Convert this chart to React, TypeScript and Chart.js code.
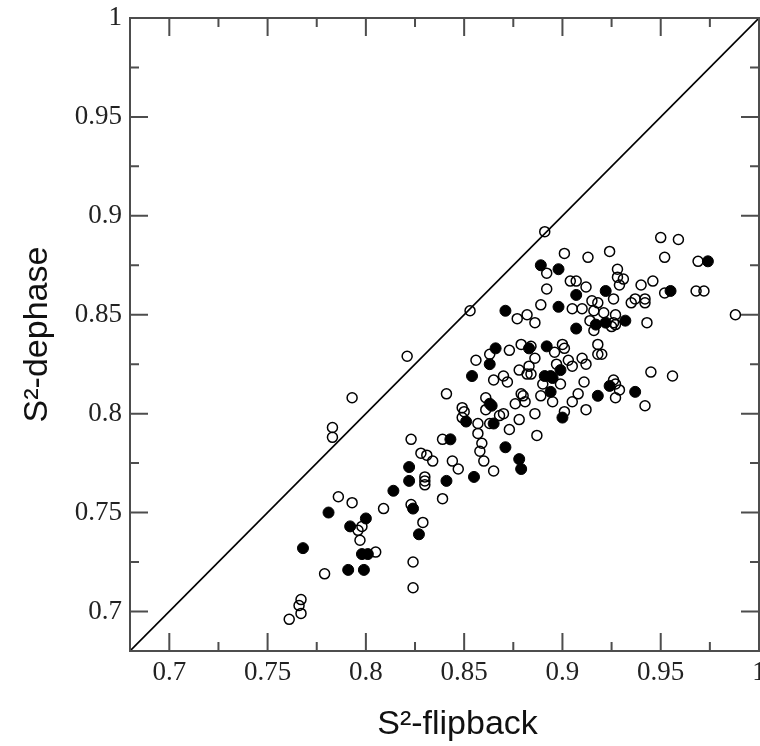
import React, { useEffect, useRef } from "react";
import { Chart, registerables } from "chart.js";

Chart.register(...registerables);

// Axis ranges and tick spacing
const axisMin = 0.68;
const axisMax = 1.0;
const majorStep = 0.05;
const minorStep = 0.025;

// Axis titles
const xTitle = "S²-flipback";
const yTitle = "S²-dephase";

// Open circles: [S2-flipback, S2-dephase]
const openPoints: [number, number][] = [
  [0.821, 0.829], [0.793, 0.808], [0.783, 0.793], [0.783, 0.788], [0.823, 0.787],
  [0.828, 0.780], [0.786, 0.758], [0.793, 0.755], [0.809, 0.752], [0.823, 0.754],
  [0.798, 0.743], [0.796, 0.741], [0.829, 0.745], [0.797, 0.736], [0.805, 0.730],
  [0.824, 0.725], [0.779, 0.719], [0.824, 0.712], [0.767, 0.706], [0.766, 0.703],
  [0.767, 0.699], [0.761, 0.696], [0.891, 0.892], [0.892, 0.871], [0.892, 0.863],
  [0.889, 0.855], [0.853, 0.852], [0.877, 0.848], [0.882, 0.850], [0.886, 0.846],
  [0.863, 0.830], [0.873, 0.832], [0.879, 0.835], [0.884, 0.834], [0.856, 0.827],
  [0.886, 0.828], [0.878, 0.822], [0.883, 0.824], [0.882, 0.820], [0.884, 0.820],
  [0.865, 0.817], [0.870, 0.819], [0.872, 0.816], [0.890, 0.815], [0.841, 0.810],
  [0.861, 0.808], [0.861, 0.802], [0.849, 0.803], [0.850, 0.801], [0.849, 0.798],
  [0.857, 0.795], [0.863, 0.795], [0.870, 0.800], [0.868, 0.799], [0.876, 0.805],
  [0.879, 0.810], [0.880, 0.809], [0.881, 0.806], [0.889, 0.809], [0.878, 0.797],
  [0.886, 0.800], [0.873, 0.792], [0.857, 0.790], [0.887, 0.789], [0.839, 0.787],
  [0.859, 0.785], [0.858, 0.781], [0.831, 0.779], [0.834, 0.776], [0.844, 0.776],
  [0.860, 0.776], [0.847, 0.772], [0.865, 0.771], [0.830, 0.768], [0.830, 0.766],
  [0.830, 0.764], [0.839, 0.757], [0.901, 0.881], [0.913, 0.879], [0.924, 0.882],
  [0.928, 0.873], [0.928, 0.869], [0.931, 0.868], [0.929, 0.865], [0.904, 0.867],
  [0.907, 0.867], [0.912, 0.864], [0.926, 0.858], [0.940, 0.865], [0.946, 0.867],
  [0.937, 0.858], [0.942, 0.858], [0.935, 0.856], [0.942, 0.856], [0.915, 0.857],
  [0.918, 0.856], [0.905, 0.853], [0.910, 0.853], [0.916, 0.852], [0.921, 0.851],
  [0.927, 0.850], [0.914, 0.847], [0.926, 0.846], [0.927, 0.845], [0.925, 0.844],
  [0.943, 0.846], [0.916, 0.842], [0.900, 0.835], [0.901, 0.833], [0.918, 0.835],
  [0.896, 0.831], [0.903, 0.827], [0.910, 0.828], [0.912, 0.825], [0.918, 0.830],
  [0.920, 0.830], [0.897, 0.825], [0.905, 0.824], [0.945, 0.821], [0.899, 0.815],
  [0.911, 0.816], [0.926, 0.817], [0.927, 0.815], [0.929, 0.812], [0.908, 0.810],
  [0.905, 0.806], [0.895, 0.806], [0.927, 0.808], [0.942, 0.804], [0.912, 0.802],
  [0.901, 0.801], [0.950, 0.889], [0.959, 0.888], [0.952, 0.879], [0.969, 0.877],
  [0.952, 0.861], [0.968, 0.862], [0.972, 0.862], [0.988, 0.850], [0.956, 0.819],
];

// Filled circles: [S2-flipback, S2-dephase]
const filledPoints: [number, number][] = [
  [0.822, 0.773], [0.822, 0.766], [0.814, 0.761], [0.824, 0.752], [0.781, 0.750],
  [0.800, 0.747], [0.792, 0.743], [0.827, 0.739], [0.768, 0.732], [0.798, 0.729],
  [0.801, 0.729], [0.791, 0.721], [0.799, 0.721], [0.889, 0.875], [0.871, 0.852],
  [0.866, 0.833], [0.883, 0.833], [0.892, 0.834], [0.863, 0.825], [0.854, 0.819],
  [0.891, 0.819], [0.863, 0.805], [0.864, 0.804], [0.851, 0.796], [0.865, 0.795],
  [0.843, 0.787], [0.871, 0.783], [0.878, 0.777], [0.879, 0.772], [0.841, 0.766],
  [0.855, 0.768], [0.898, 0.873], [0.922, 0.862], [0.907, 0.860], [0.898, 0.854],
  [0.932, 0.847], [0.917, 0.845], [0.922, 0.846], [0.907, 0.843], [0.899, 0.822],
  [0.894, 0.819], [0.895, 0.818], [0.924, 0.814], [0.937, 0.811], [0.918, 0.809],
  [0.894, 0.811], [0.900, 0.798], [0.974, 0.877], [0.955, 0.862],
];

// Diagonal reference line y = x
const diagonal: [number, number][] = [
  [axisMin, axisMin],
  [axisMax, axisMax],
];

const toXY = (pts: [number, number][]) => pts.map(([x, y]) => ({ x, y }));

const fmt = (v: number | string) => {
  const n = Number(v);
  if (Math.abs(n - 1) < 1e-9) return "1";
  return n.toFixed(2).replace(/0$/, "");
};

const titleFontCss = "34px 'Liberation Sans', Arial, sans-serif";

const frameTicks = {
  id: "frameTicks",
  afterDatasetsDraw(chart: any) {
    const { ctx, chartArea, scales } = chart;
    const { left, right, top, bottom } = chartArea;
    const xs = scales.x;
    const ys = scales.y;
    ctx.save();
    ctx.strokeStyle = "#4d4d4d";
    ctx.lineWidth = 2;
    ctx.strokeRect(left, top, right - left, bottom - top);
    ctx.beginPath();
    const first = Math.ceil(axisMin / minorStep - 1e-9);
    for (let i = first; i * minorStep <= axisMax + 1e-9; i++) {
      const v = i * minorStep;
      const isMajor = Math.abs(v / majorStep - Math.round(v / majorStep)) < 1e-6;
      const len = isMajor ? 18 : 9;
      const px = xs.getPixelForValue(v);
      ctx.moveTo(px, bottom);
      ctx.lineTo(px, bottom - len);
      ctx.moveTo(px, top);
      ctx.lineTo(px, top + len);
      const py = ys.getPixelForValue(v);
      ctx.moveTo(left, py);
      ctx.lineTo(left + len, py);
      ctx.moveTo(right, py);
      ctx.lineTo(right - len, py);
    }
    ctx.stroke();

    // Axis titles
    ctx.fillStyle = "#111";
    ctx.font = titleFontCss;
    ctx.textAlign = "center";
    ctx.textBaseline = "alphabetic";
    const midX = (left + right) / 2 + 13;
    ctx.fillText(xTitle, midX, bottom + 83);
    ctx.save();
    ctx.translate(47, (top + bottom) / 2);
    ctx.rotate(-Math.PI / 2);
    ctx.fillText(yTitle, 0, 0);
    ctx.restore();
    ctx.restore();
  },
};

export default function App() {
  const ref = useRef<HTMLCanvasElement | null>(null);

  useEffect(() => {
    if (!ref.current) return;
    const tickFont = { family: "'Liberation Serif', 'Times New Roman', serif", size: 27 };
    const chart = new Chart(ref.current, {
      type: "scatter",
      data: {
        datasets: [
          {
            label: "diagonal",
            data: toXY(diagonal),
            showLine: true,
            borderColor: "#000",
            borderWidth: 1.6,
            pointRadius: 0,
            fill: false,
          },
          {
            label: "open",
            data: toXY(openPoints),
            pointRadius: 5,
            pointBorderWidth: 1.5,
            pointBorderColor: "#000",
            pointBackgroundColor: "rgba(0,0,0,0)",
            showLine: false,
          },
          {
            label: "filled",
            data: toXY(filledPoints),
            pointRadius: 5.5,
            pointBorderWidth: 1,
            pointBorderColor: "#000",
            pointBackgroundColor: "#000",
            showLine: false,
          },
        ],
      },
      options: {
        responsive: false,
        animation: false,
        devicePixelRatio: 1,
        layout: { autoPadding: false, padding: { top: 18, right: 1, left: 0, bottom: 0 } },
        plugins: {
          legend: { display: false },
          tooltip: { enabled: false },
        },
        scales: {
          x: {
            type: "linear",
            min: axisMin,
            max: axisMax,
            grid: { display: false, drawTicks: false },
            border: { display: false },
            ticks: {
              stepSize: majorStep,
              includeBounds: false,
              padding: 6,
              color: "#222",
              font: tickFont,
              maxRotation: 0,
              autoSkip: false,
              callback: (v: any) => fmt(v),
            },
            title: { display: false },
            afterFit: (s: any) => {
              s.height = 95;
              s.paddingLeft = 0;
              s.paddingRight = 0;
            },
          },
          y: {
            type: "linear",
            min: axisMin,
            max: axisMax,
            grid: { display: false, drawTicks: false },
            border: { display: false },
            ticks: {
              stepSize: majorStep,
              includeBounds: false,
              padding: 8,
              color: "#222",
              font: tickFont,
              autoSkip: false,
              callback: (v: any) => fmt(v),
            },
            title: { display: false },
            afterFit: (s: any) => {
              s.width = 130;
              s.paddingTop = 0;
              s.paddingBottom = 0;
            },
          },
        },
      },
      plugins: [frameTicks],
    } as any);
    return () => chart.destroy();
  }, []);

  return (
    <div style={{ position: "absolute", left: 0, top: 0, width: 760, height: 746, background: "#fff" }}>
      <canvas ref={ref} width={760} height={746} style={{ display: "block" }} />
    </div>
  );
}
